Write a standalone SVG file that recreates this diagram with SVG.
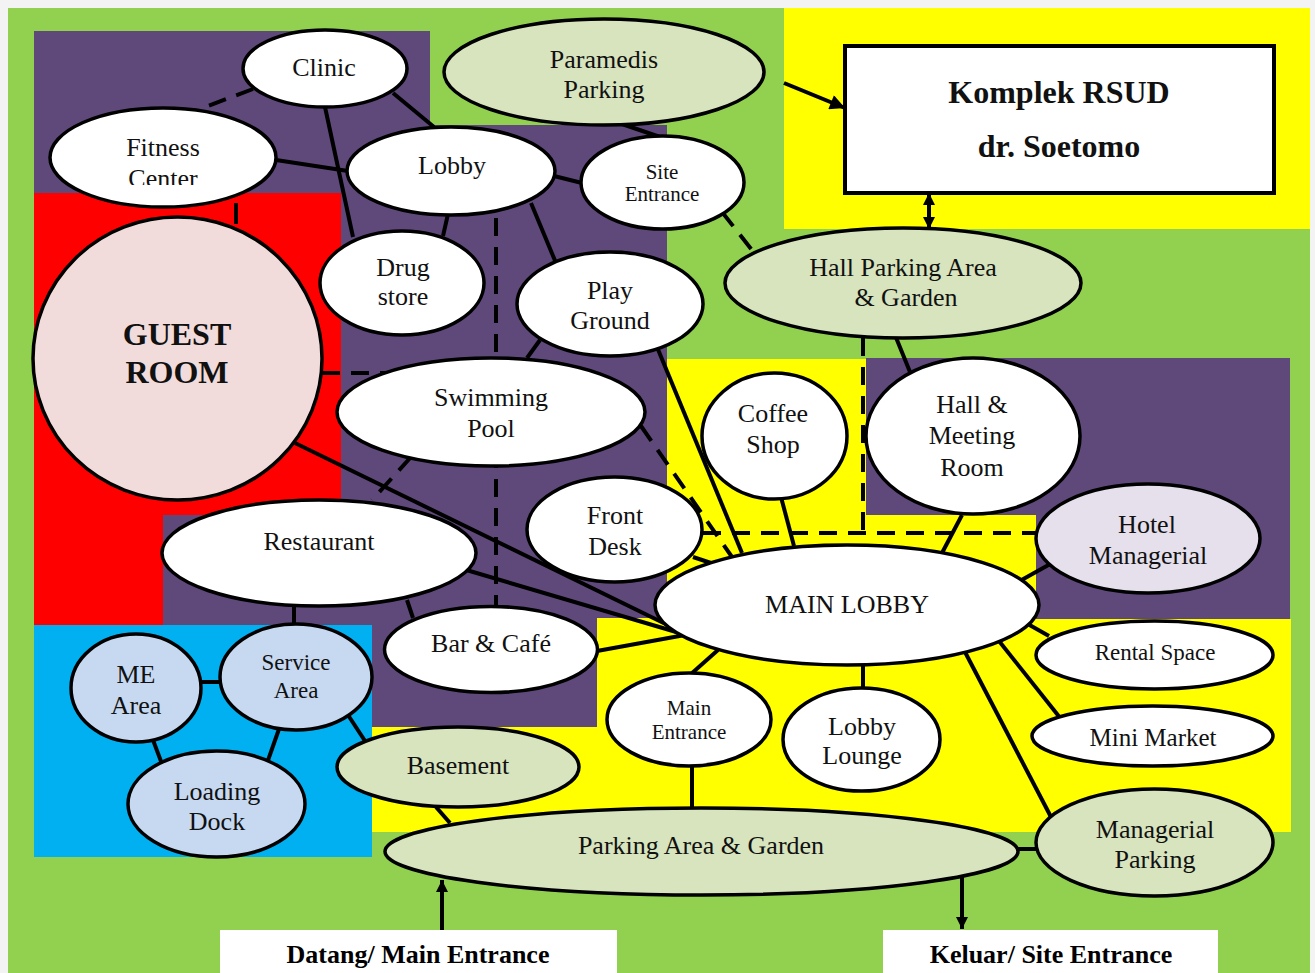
<svg xmlns="http://www.w3.org/2000/svg" width="1315" height="973" viewBox="0 0 1315 973">
  <style>
    .node { stroke: #000; stroke-width: 3.5; }
    .w { fill: #fff; }
    .lg { fill: #d7e4bd; }
    .lb { fill: #c6d9f1; }
    .t { font-family: "Liberation Serif", "Times New Roman", serif; font-size: 26px; fill: #111; text-anchor: middle; }
    .s { font-size: 21px; }
    .b { font-weight: bold; font-size: 32px; }
    .lbl { font-family: "Liberation Serif", "Times New Roman", serif; font-weight: bold; font-size: 26px; fill: #000; text-anchor: middle; }
    .c { stroke: #000; stroke-width: 4; fill: none; }
    .d { stroke-dasharray: 18 11; }
  </style>
  <defs>
    <marker id="arrow" viewBox="0 0 10 10" refX="10" refY="5" markerWidth="18" markerHeight="15" markerUnits="userSpaceOnUse" orient="auto-start-reverse">
      <path d="M0,0 L10,5 L0,10 z" fill="#000"/>
    </marker>
    <marker id="arrowS" viewBox="0 0 10 10" refX="10" refY="5" markerWidth="13" markerHeight="12" markerUnits="userSpaceOnUse" orient="auto-start-reverse">
      <path d="M0,0 L10,5 L0,10 z" fill="#000"/>
    </marker>
    <clipPath id="fitnessClip">
      <rect x="40" y="100" width="250" height="85"/>
    </clipPath>
  </defs>

  <!-- zones -->
  <g id="zones">
    <rect x="0" y="0" width="1315" height="973" fill="#f3f3f3"/>
    <rect x="8" y="8" width="1302" height="965" fill="#92d050"/>
    <rect x="784" y="8" width="526" height="221" fill="#ffff00"/>
    <polygon points="667,359 866,359 866,515 1036,515 1036,619 1291,619 1291,832 372,832 372,727 597,727 597,618 667,618" fill="#ffff00"/>
    <rect x="34" y="193" width="307" height="432" fill="#ff0000"/>
    <rect x="34" y="31" width="396" height="162" fill="#5f497a"/>
    <rect x="341" y="125" width="326" height="493" fill="#5f497a"/>
    <rect x="163" y="515" width="434" height="212" fill="#5f497a"/>
    <rect x="866" y="358" width="424" height="157" fill="#5f497a"/>
    <rect x="1036" y="515" width="254" height="104" fill="#5f497a"/>
    <rect x="34" y="625" width="338" height="232" fill="#00b0f0"/>
    <rect x="845" y="46" width="429" height="147" fill="#fff" stroke="#000" stroke-width="4"/>
    <rect x="220" y="930" width="397" height="43" fill="#fff"/>
    <rect x="883" y="930" width="335" height="43" fill="#fff"/>
  </g>

  <!-- connectors -->
  <g id="connectors">
    <line class="c d" x1="253" y1="89" x2="200" y2="109"/>
    <line class="c" x1="393" y1="93" x2="434" y2="127"/>
    <line class="c" x1="325" y1="107" x2="353" y2="237"/>
    <line class="c" x1="276" y1="160" x2="348" y2="171"/>
    <line class="c" x1="236" y1="203" x2="236" y2="224"/>
    <line class="c" x1="448" y1="214" x2="443" y2="236"/>
    <line class="c" x1="554" y1="176" x2="582" y2="183"/>
    <line class="c" x1="531" y1="203" x2="556" y2="263"/>
    <line class="c d" x1="496" y1="218" x2="496" y2="607"/>
    <line class="c" x1="622" y1="124" x2="660" y2="137"/>
    <line class="c" x1="784" y1="83" x2="845" y2="108" marker-end="url(#arrow)"/>
    <line class="c" x1="929" y1="193" x2="929" y2="229" marker-start="url(#arrowS)" marker-end="url(#arrowS)"/>
    <line class="c d" x1="722" y1="212" x2="752" y2="250"/>
    <line class="c" x1="895" y1="335" x2="910" y2="372"/>
    <line class="c d" x1="863" y1="338" x2="863" y2="533"/>
    <line class="c d" x1="703" y1="533" x2="1040" y2="533"/>
    <line class="c d" x1="322" y1="373" x2="390" y2="373"/>
    <line class="c" x1="295" y1="443" x2="682" y2="632"/>
    <line class="c" x1="463" y1="569" x2="683" y2="634"/>
    <line class="c d" x1="411" y1="457" x2="372" y2="500"/>
    <line class="c" x1="527" y1="358" x2="540" y2="340"/>
    <line class="c" x1="657" y1="347" x2="742" y2="553"/>
    <line class="c d" x1="641" y1="426" x2="732" y2="557"/>
    <line class="c" x1="693" y1="557" x2="711" y2="563"/>
    <line class="c" x1="781" y1="497" x2="794" y2="546"/>
    <line class="c" x1="962" y1="515" x2="942" y2="553"/>
    <line class="c" x1="1052" y1="563" x2="1018" y2="582"/>
    <line class="c" x1="294" y1="605" x2="294" y2="625"/>
    <line class="c" x1="407" y1="600" x2="413" y2="618"/>
    <line class="c" x1="597" y1="651" x2="685" y2="635"/>
    <line class="c" x1="200" y1="682" x2="221" y2="682"/>
    <line class="c" x1="153" y1="740" x2="162" y2="764"/>
    <line class="c" x1="279" y1="729" x2="266" y2="766"/>
    <line class="c" x1="348" y1="715" x2="367" y2="744"/>
    <line class="c" x1="436" y1="807" x2="450" y2="823"/>
    <line class="c" x1="718" y1="650" x2="691" y2="674"/>
    <line class="c" x1="863" y1="664" x2="863" y2="689"/>
    <line class="c" x1="965" y1="652" x2="1051" y2="817"/>
    <line class="c" x1="999" y1="641" x2="1061" y2="719"/>
    <line class="c" x1="1026" y1="623" x2="1049" y2="636"/>
    <line class="c" x1="692" y1="765" x2="692" y2="809"/>
    <line class="c" x1="1015" y1="849" x2="1037" y2="849" stroke-width="6"/>
    <line class="c" x1="962" y1="877" x2="962" y2="929" stroke-width="3.5" marker-end="url(#arrowS)"/>
  </g>

  <!-- nodes -->
  <g id="komplek-rsud">
    <text class="t b" x="1059" y="103">Komplek RSUD</text>
    <text class="t b" x="1059" y="157">dr. Soetomo</text>
  </g>
  <g id="clinic">
    <ellipse class="node w" cx="325" cy="68.5" rx="82" ry="38.5"/>
    <text class="t" x="324" y="76">Clinic</text>
  </g>
  <g id="fitness-center">
    <ellipse class="node w" cx="163" cy="157.5" rx="113" ry="49.5"/>
    <text class="t" x="163" y="156">Fitness</text>
    <text class="t" x="163" y="187" clip-path="url(#fitnessClip)">Center</text>
  </g>
  <g id="lobby">
    <ellipse class="node w" cx="451" cy="171" rx="104" ry="44"/>
    <text class="t" x="452" y="174">Lobby</text>
  </g>
  <g id="paramedis-parking">
    <ellipse class="node lg" cx="604" cy="72" rx="160" ry="53"/>
    <text class="t" x="604" y="68">Paramedis</text>
    <text class="t" x="604" y="98">Parking</text>
  </g>
  <g id="site-entrance">
    <ellipse class="node w" cx="662.5" cy="182.5" rx="81.5" ry="46.5"/>
    <text class="t s" x="662" y="179">Site</text>
    <text class="t s" x="662" y="201">Entrance</text>
  </g>
  <g id="drug-store">
    <ellipse class="node w" cx="402" cy="283" rx="82" ry="52"/>
    <text class="t" x="403" y="276">Drug</text>
    <text class="t" x="403" y="305">store</text>
  </g>
  <g id="play-ground">
    <ellipse class="node w" cx="610" cy="304" rx="93" ry="52"/>
    <text class="t" x="610" y="299">Play</text>
    <text class="t" x="610" y="329">Ground</text>
  </g>
  <g id="hall-parking">
    <ellipse class="node lg" cx="903" cy="283" rx="178" ry="55"/>
    <text class="t" x="903" y="276">Hall Parking Area</text>
    <text class="t" x="906" y="306">&amp; Garden</text>
  </g>
  <g id="guest-room">
    <ellipse class="node" cx="177.5" cy="358.5" rx="144.5" ry="141.5" fill="#f2dcdb"/>
    <text class="t b" x="177" y="345">GUEST</text>
    <text class="t b" x="177" y="383">ROOM</text>
  </g>
  <g id="swimming-pool">
    <ellipse class="node w" cx="491" cy="412" rx="154" ry="54"/>
    <text class="t" x="491" y="406">Swimming</text>
    <text class="t" x="491" y="437">Pool</text>
  </g>
  <g id="coffee-shop">
    <ellipse class="node w" cx="774.5" cy="436" rx="72.5" ry="63"/>
    <text class="t" x="773" y="422">Coffee</text>
    <text class="t" x="773" y="453">Shop</text>
  </g>
  <g id="hall-meeting-room">
    <ellipse class="node w" cx="973" cy="436" rx="107" ry="78"/>
    <text class="t" x="972" y="413">Hall &amp;</text>
    <text class="t" x="972" y="444">Meeting</text>
    <text class="t" x="972" y="476">Room</text>
  </g>
  <g id="front-desk">
    <ellipse class="node w" cx="614.5" cy="529.5" rx="87.5" ry="52.5"/>
    <text class="t" x="615" y="524">Front</text>
    <text class="t" x="615" y="555">Desk</text>
  </g>
  <g id="restaurant">
    <ellipse class="node w" cx="319" cy="553" rx="157" ry="53"/>
    <text class="t" x="319" y="550">Restaurant</text>
  </g>
  <g id="hotel-managerial">
    <ellipse class="node" cx="1148" cy="538.5" rx="112" ry="54.5" fill="#e5e0ec"/>
    <text class="t" x="1147" y="533">Hotel</text>
    <text class="t" x="1148" y="564">Managerial</text>
  </g>
  <g id="main-lobby">
    <ellipse class="node w" cx="847" cy="605" rx="192" ry="60"/>
    <text class="t" x="847" y="613">MAIN LOBBY</text>
  </g>
  <g id="bar-cafe">
    <ellipse class="node w" cx="491" cy="649.5" rx="106.5" ry="43"/>
    <text class="t" x="491" y="652">Bar &amp; Café</text>
  </g>
  <g id="rental-space">
    <ellipse class="node w" cx="1154.5" cy="655" rx="118.5" ry="34"/>
    <text class="t s" x="1155" y="660" style="font-size:23px">Rental Space</text>
  </g>
  <g id="mini-market">
    <ellipse class="node w" cx="1152.5" cy="736" rx="120.5" ry="30"/>
    <text class="t" x="1153" y="746" style="font-size:25px">Mini Market</text>
  </g>
  <g id="main-entrance">
    <ellipse class="node w" cx="689" cy="719.5" rx="82" ry="46.5"/>
    <text class="t s" x="689" y="715">Main</text>
    <text class="t s" x="689" y="739">Entrance</text>
  </g>
  <g id="lobby-lounge">
    <ellipse class="node w" cx="861.5" cy="739.5" rx="78.5" ry="51.5"/>
    <text class="t" x="862" y="735">Lobby</text>
    <text class="t" x="862" y="764">Lounge</text>
  </g>
  <g id="managerial-parking">
    <ellipse class="node lg" cx="1154.5" cy="842.5" rx="118.5" ry="53.5"/>
    <text class="t" x="1155" y="838">Managerial</text>
    <text class="t" x="1155" y="868">Parking</text>
  </g>
  <g id="parking-area-garden">
    <ellipse class="node lg" cx="701.5" cy="851.5" rx="316.5" ry="43.5"/>
    <text class="t" x="701" y="854">Parking Area &amp; Garden</text>
  </g>
  <g id="basement">
    <ellipse class="node lg" cx="458" cy="767" rx="121" ry="40"/>
    <text class="t" x="458" y="774">Basement</text>
  </g>
  <g id="me-area">
    <ellipse class="node lb" cx="136" cy="688" rx="65" ry="54"/>
    <text class="t" x="136" y="683">ME</text>
    <text class="t" x="136" y="714">Area</text>
  </g>
  <g id="service-area">
    <ellipse class="node lb" cx="296" cy="677" rx="76" ry="53"/>
    <text class="t" x="296" y="670" style="font-size:23px">Service</text>
    <text class="t" x="296" y="698" style="font-size:23px">Area</text>
  </g>
  <g id="loading-dock">
    <ellipse class="node lb" cx="216.5" cy="804" rx="88.5" ry="53"/>
    <text class="t" x="217" y="800">Loading</text>
    <text class="t" x="217" y="830">Dock</text>
  </g>
  <g id="datang">
    <text class="lbl" x="418" y="963">Datang/ Main Entrance</text>
  </g>
  <g id="keluar">
    <text class="lbl" x="1051" y="963">Keluar/ Site Entrance</text>
  </g>

  <!-- entry arrow drawn above the parking ellipse edge -->
  <g id="entry-arrow">
    <line class="c" x1="442" y1="930" x2="442" y2="880" stroke-width="3.5" marker-end="url(#arrowS)"/>
  </g>
</svg>
